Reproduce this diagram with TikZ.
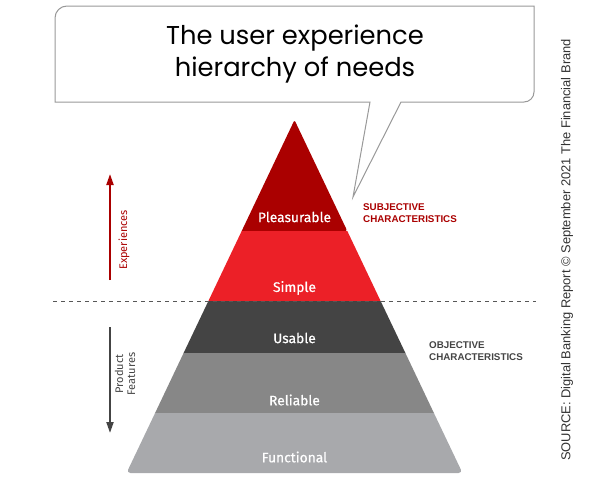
\documentclass[tikz,border=0pt]{standalone}
\usepackage{fontspec}
\setmainfont{Fira Sans}
\newfontfamily\titlefont{Poppins}
\newfontfamily\lvlfont[FakeBold=0.6]{Fira Sans}
\newfontfamily\arialfont{Liberation Sans}
\usetikzlibrary{arrows.meta}
\definecolor{dkred}{HTML}{AA0000}
\definecolor{brred}{HTML}{EC2027}
\definecolor{dkgray}{HTML}{444444}
\definecolor{mdgray}{HTML}{878787}
\definecolor{ltgray}{HTML}{A8A9AC}
\definecolor{bubgray}{HTML}{999999}
\tikzset{
  lvl/.style={text=white, font=\lvlfont\fontsize{13.8}{16}\selectfont, inner sep=0pt},
  charlbl/.style={font=\arialfont\bfseries\fontsize{9.8}{12}\selectfont, align=left, anchor=west, inner sep=0pt},
  sidelbl/.style={font=\fontsize{11}{12}\selectfont, rotate=90, align=center, inner sep=0pt},
  bubble/.style={draw=bubgray, line width=1pt, fill=white},
}
\begin{document}
\begin{tikzpicture}[x=1pt,y=-1pt]
\useasboundingbox (0,0) rectangle (590,482);
% speech bubble
\draw[bubble] (55,102) [rounded corners=12pt] -- (55,6) [sharp corners] -- (534,6) [rounded corners=10pt] -- (534,102) [sharp corners] -- (401,102) -- (353,197) -- (370,102) -- cycle;
\node[font=\titlefont\fontsize{25.8}{31.5}\selectfont, align=center] (title) at (295,54) {The user experience\\hierarchy of needs};
% pyramid bands
\fill[dkred, rounded corners=2pt] (241.7,231) -- (294.5,120) -- (347.3,231) [sharp corners] -- cycle;
\fill[brred] (208.4,301) -- (241.7,231) -- (347.3,231) -- (380.6,301) -- cycle;
\fill[dkgray] (183.6,353) -- (208.4,301) -- (380.6,301) -- (405.4,353) -- cycle;
\fill[mdgray] (155.1,413) -- (183.6,353) -- (405.4,353) -- (433.9,413) -- cycle;
\fill[ltgray] (155.1,413) [rounded corners=4pt] -- (126.5,473) -- (462.5,473) [sharp corners] -- (433.9,413) -- cycle;
\node[lvl] (pleas) at (294.5,217) {Pleasurable};
\node[lvl] (simple) at (294.5,288) {Simple};
\node[lvl] (usable) at (294.5,338) {Usable};
\node[lvl] (reliable) at (294.5,400) {Reliable};
\node[lvl] (functional) at (294.5,457) {Functional};
% dashed divider
\coordinate (dl) at (53,301);
\coordinate (dr) at (536,301);
\draw[dkgray!90, line width=1pt, dash pattern=on 4pt off 4pt] (dl) -- (dr);
% side arrows
\coordinate (ra0) at (110,280);
\coordinate (ra1) at (110,174);
\draw[dkred, line width=2pt, -{Triangle[width=7pt,length=11pt]}] (ra0) -- (ra1);
\node[sidelbl, text=dkred] (exp) at (124,240) {Experiences};
\coordinate (ga0) at (110,327);
\coordinate (ga1) at (110,433);
\draw[dkgray, line width=2pt, -{Triangle[width=7pt,length=11pt]}] (ga0) -- (ga1);
\node[sidelbl, text=dkgray] (prod) at (125,374) {Product\\Features};
% characteristics
\node[charlbl, text=dkred] (subj) at (363,213) {SUBJECTIVE\\CHARACTERISTICS};
\node[charlbl, text=dkgray] (obj) at (429,351) {OBJECTIVE\\CHARACTERISTICS};
% source
\node[font=\arialfont\fontsize{12.9}{14}\selectfont, text=black!80, rotate=90, inner sep=0pt] (src) at (567,250) {SOURCE: Digital Banking Report © September 2021 The Financial Brand};
\end{tikzpicture}
\end{document}
